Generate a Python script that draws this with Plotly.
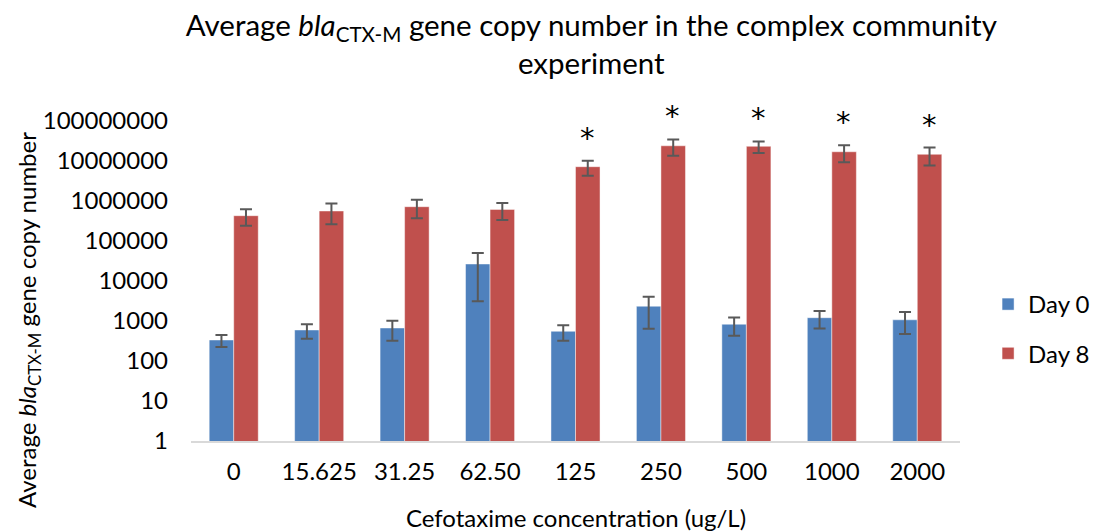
import numpy as np
import plotly.graph_objects as go

# Cefotaxime concentrations (ug/L) used as categories
concentrations = ["0", "15.625", "31.25", "62.50", "125", "250", "500", "1000", "2000"]

# Average blaCTX-M copy numbers and their error (± value)
day0 = [335, 596, 668, 26600, 552, 2340, 830, 1210, 1070]
day0_err = [110, 235, 345, 23500, 230, 1700, 400, 560, 600]
day8 = [429000, 562000, 720000, 617000, 7200000, 24000000, 23300000, 17000000, 14700000]
day8_err = [190000, 300000, 350000, 280000, 2900000, 10500000, 7500000, 7700000, 7000000]

# significance markers above the Day 8 bars
significance = ["", "", "", "", "*", "*", "*", "*", "*"]

tick_vals = [1, 10, 100, 1000, 10000, 100000, 1000000, 10000000, 100000000]
tick_text = ["1", "10", "100", "1000", "10000", "100000", "1000000", "10000000", "100000000"]

FONT = "Lato"
BLUE = "#4F81BD"
RED = "#C0504D"
ERR = "#595959"

fig = go.Figure()
fig.add_trace(go.Bar(
    name="Day 0", x=concentrations, y=day0, legendgroup="d0",
    marker=dict(color=BLUE, line=dict(color="rgba(255,255,255,0.45)", width=1)),
    error_y=dict(type="data", array=day0_err, color=ERR, thickness=2, width=6),
))
fig.add_trace(go.Bar(
    name="Day 8", x=concentrations, y=day8, legendgroup="d8",
    marker=dict(color=RED, line=dict(color="rgba(255,255,255,0.45)", width=1)),
    error_y=dict(type="data", array=day8_err, color=ERR, thickness=2, width=6),
))

# category positions are given by index so numeric-looking labels stay categorical
for i, (val, err, mark) in enumerate(zip(day8, day8_err, significance)):
    if mark:
        fig.add_annotation(
            x=i, y=np.log10(val + err), xref="x", yref="y",
            text=mark, showarrow=False, xshift=12, yshift=4,
            yanchor="bottom", font=dict(family="DejaVu Sans", size=29, color="black"),
        )

# rotated y-axis title with italic gene name and subscript
fig.add_annotation(
    x=-0.212, y=0.378, xref="paper", yref="paper",
    text="Average <i>bla</i><sub>CTX-M</sub> gene copy number",
    textangle=-90, showarrow=False, xanchor="center", yanchor="middle",
    font=dict(family=FONT, size=24, color="black"),
)

# x-axis title
fig.add_annotation(
    x=0.5, y=-0.2375, xref="paper", yref="paper",
    text="Cefotaxime concentration (ug/L)", showarrow=False,
    xanchor="center", yanchor="middle",
    font=dict(family=FONT, size=24, color="black"),
)

fig.update_layout(
    width=1093, height=531,
    margin=dict(l=191, r=133, t=121, b=90),
    paper_bgcolor="white", plot_bgcolor="white",
    barmode="group", bargap=0.426, bargroupgap=0,
    font=dict(family=FONT, size=24, color="black"),
    title=dict(
        text="Average <i>bla</i><sub>CTX-M</sub> gene copy number in the complex community<br>experiment",
        x=0.541, xanchor="center", y=0.933, yanchor="top",
        font=dict(family=FONT, size=29.5, color="black"),
    ),
    legend=dict(
        xref="container", yref="paper",
        x=0.904, y=0.35, xanchor="left", yanchor="middle",
        font=dict(family=FONT, size=24, color="black"),
        tracegroupgap=15, bgcolor="rgba(0,0,0,0)",
    ),
    xaxis=dict(
        type="category", range=[-0.5, 8.5], showgrid=False, showline=True,
        linecolor="#D9D9D9", linewidth=2, ticks="", ticklabelstandoff=8,
        tickfont=dict(family=FONT, size=24, color="black"),
    ),
    yaxis=dict(
        type="log", range=[0, 8], showgrid=False, showline=False, zeroline=False,
        tickvals=tick_vals, ticktext=tick_text, ticks="", ticklabelstandoff=22,
        tickfont=dict(family=FONT, size=24, color="black"),
    ),
)

fig.write_html("out.html")
